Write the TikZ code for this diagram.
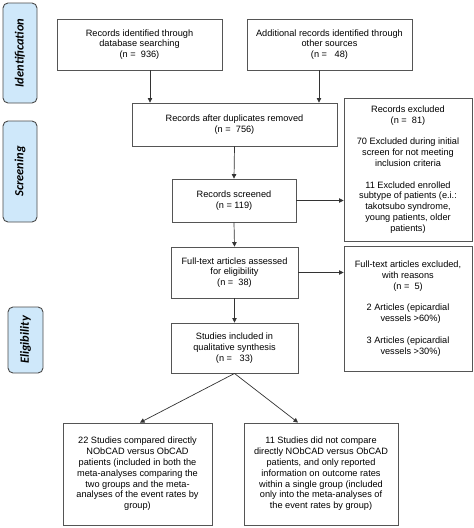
\documentclass[tikz,border=0pt]{standalone}
\usepackage{fontspec}
\setmainfont{Liberation Sans}
\newfontfamily\sidefont{Carlito}
\usetikzlibrary{arrows.meta}
\definecolor{boxline}{HTML}{555555}
\definecolor{arrline}{HTML}{333333}
\definecolor{sidefill}{HTML}{CFE8FA}
\definecolor{sideline}{HTML}{4A4A4A}
\begin{document}
\begin{tikzpicture}[x=1pt,y=-1pt,
  box/.style={draw=boxline,line width=0.9pt,inner sep=0pt,align=center,
    font=\fontsize{9.2}{10.8}\selectfont},
  side/.style={draw=sideline,fill=sidefill,line width=0.9pt,rounded corners=5pt,
    rotate=90,inner sep=0pt,font=\sidefont\fontsize{12.5}{14}\selectfont\bfseries\itshape},
  arr/.style={draw=arrline,line width=0.7pt,-{Triangle[width=4.5pt,length=4.5pt]}}]
\useasboundingbox (0,0) rectangle (474,528);
% side labels
\node[side,minimum width=100,minimum height=34] (sid) at (20,53) {Identification};
\node[side,minimum width=101,minimum height=34] (sscr) at (20,171.5) {Screening};
\node[side,minimum width=66,minimum height=35] (selg) at (25.5,340) {Eligibility};
% boxes
\node[box,minimum width=165,minimum height=51] (A) at (139.5,44.5)
  {Records identified through\\database searching\\(n =\ \ 936)};
\node[box,minimum width=165,minimum height=51] (B) at (329.5,44.5)
  {Additional records identified through\\other sources\\(n =\ \ \ 48)};
\node[box,minimum width=205,minimum height=43] (C) at (234.5,124.5)
  {Records after duplicates removed\\(n =\ \ 756)};
\node[box,minimum width=128,minimum height=143] (E1) at (408,169.5)
  {Records excluded\\(n =\ \ 81)\\[10.8pt]70 Excluded during initial\\screen for not meeting\\inclusion criteria\\[10.8pt]11 Excluded enrolled\\subtype of patients (e.i.:\\takotsubo syndrome,\\young patients, older\\patients)};
\node[box,minimum width=124,minimum height=43] (S) at (234,200.5)
  {Records screened\\(n = 119)};
\node[box,minimum width=127,minimum height=51] (F) at (234.5,272.5)
  {Full-text articles assessed\\for eligibility\\(n =\ \ 38)};
\node[box,minimum width=128,minimum height=125] (E2) at (408,308.5)
  {Full-text articles excluded,\\with reasons\\(n =\ \ 5)\\[10.8pt]2 Articles (epicardial\\\ \ vessels >60\%)\\[10.8pt]3 Articles (epicardial\\\ \ vessels >30\%)};
\node[box,minimum width=127,minimum height=50] (Q) at (234.5,348)
  {Studies included in\\qualitative synthesis\\(n =\ \ \ 33)};
\node[box,minimum width=149,minimum height=102] (L) at (137.5,474)
  {22 Studies compared directly\\NObCAD versus ObCAD\\patients (included in both the\\meta-analyses comparing the\\two groups and the meta-\\analyses of the event rates by\\group)};
\node[box,minimum width=154,minimum height=102] (R) at (321,474)
  {11 Studies did not compare\\directly NObCAD versus ObCAD\\patients, and only reported\\information on outcome rates\\within a single group (included\\only into the meta-analyses of\\the event rates by group)};
% connectors
\coordinate (a1) at ([xshift=10.5]A.south);
\coordinate (b1) at ([xshift=-10.5]B.south);
\draw[arr] (a1) -- (a1 |- C.north);
\draw[arr] (b1) -- (b1 |- C.north);
\draw[arr] (C.south) -- (S.north);
\draw[arr] (S.east) -- (S.east -| E1.west);
\draw[arr] (S.south) -- (F.north);
\draw[arr] (F.east) -- (F.east -| E2.west);
\draw[arr] (F.south) -- (Q.north);
\coordinate (l1) at ([xshift=2.5]L.north);
\coordinate (r1) at ([xshift=-23]R.north);
\draw[arr] (Q.south) -- (l1);
\draw[arr] (Q.south) -- (r1);
\end{tikzpicture}
\end{document}
